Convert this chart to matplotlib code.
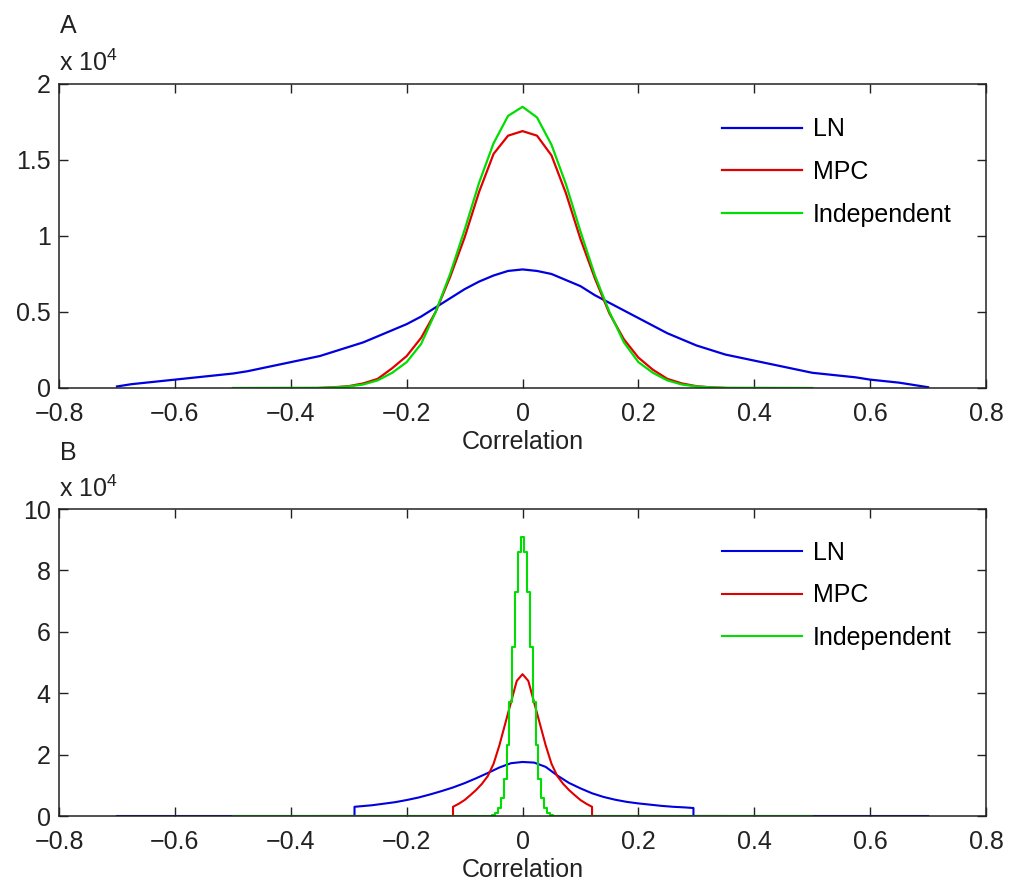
import matplotlib
matplotlib.use("Agg")
import matplotlib.pyplot as plt
import numpy as np

plt.rcParams['font.family'] = ['Liberation Sans', 'DejaVu Sans']
plt.rcParams['mathtext.default'] = 'regular'

series_names = ['LN', 'MPC', 'Independent']
colors = ['#0000e0', '#e00000', '#00dd00']
xticks = [-0.8, -0.6, -0.4, -0.2, 0, 0.2, 0.4, 0.6, 0.8]
xtick_labels = ['\u22120.8', '\u22120.6', '\u22120.4', '\u22120.2', '0', '0.2', '0.4', '0.6', '0.8']

# ---- panel A (counts in units of 1e4) ----
a_ln_x = [-0.7, -0.675, -0.65, -0.625, -0.6, -0.575, -0.55, -0.525, -0.5, -0.475, -0.45, -0.425,
          -0.4, -0.375, -0.35, -0.325, -0.3, -0.275, -0.25, -0.225, -0.2, -0.175, -0.15, -0.125,
          -0.1, -0.075, -0.05, -0.025, 0, 0.025, 0.05, 0.075, 0.1, 0.125, 0.15, 0.175, 0.2,
          0.225, 0.25, 0.275, 0.3, 0.325, 0.35, 0.375, 0.4, 0.425, 0.45, 0.475, 0.5, 0.525,
          0.55, 0.575, 0.6, 0.625, 0.65, 0.675, 0.7]
a_ln_y = [0.01, 0.025, 0.035, 0.045, 0.055, 0.065, 0.075, 0.085, 0.095, 0.11, 0.13, 0.15,
          0.17, 0.19, 0.21, 0.24, 0.27, 0.30, 0.34, 0.38, 0.42, 0.47, 0.53, 0.59,
          0.65, 0.70, 0.74, 0.77, 0.78, 0.77, 0.75, 0.71, 0.67, 0.61, 0.56, 0.51, 0.46,
          0.41, 0.36, 0.32, 0.28, 0.25, 0.22, 0.20, 0.18, 0.16, 0.14, 0.12, 0.10, 0.09,
          0.08, 0.07, 0.055, 0.045, 0.035, 0.02, 0.005]

a_mpc_x = [-0.35, -0.325, -0.3, -0.275, -0.25, -0.225, -0.2, -0.175, -0.15, -0.125, -0.1,
           -0.075, -0.05, -0.025, 0, 0.025, 0.05, 0.075, 0.1, 0.125, 0.15, 0.175, 0.2,
           0.225, 0.25, 0.275, 0.3, 0.325, 0.35]
a_mpc_y = [0.0, 0.005, 0.012, 0.03, 0.06, 0.13, 0.21, 0.33, 0.50, 0.73, 0.99,
           1.29, 1.54, 1.66, 1.69, 1.66, 1.53, 1.28, 0.98, 0.72, 0.49, 0.32, 0.20,
           0.12, 0.06, 0.03, 0.012, 0.004, 0.0]

a_ind_x = [-0.5, -0.35, -0.325, -0.3, -0.275, -0.25, -0.225, -0.2, -0.175, -0.15, -0.125, -0.1,
           -0.075, -0.05, -0.025, 0, 0.025, 0.05, 0.075, 0.1, 0.125, 0.15, 0.175, 0.2,
           0.225, 0.25, 0.275, 0.3, 0.325, 0.35, 0.5]
a_ind_y = [0.0, 0.0015, 0.004, 0.01, 0.023, 0.05, 0.10, 0.17, 0.29, 0.50, 0.75, 1.04,
           1.35, 1.61, 1.79, 1.85, 1.78, 1.60, 1.34, 1.03, 0.74, 0.50, 0.30, 0.17,
           0.10, 0.05, 0.023, 0.01, 0.004, 0.0015, 0.0]

# ---- panel B (counts in units of 1e4) ----
b_ln_x = [-0.7, -0.29, -0.29, -0.26, -0.24, -0.22, -0.2, -0.18, -0.16, -0.14, -0.12, -0.1, -0.08,
          -0.06, -0.04, -0.02, 0, 0.02, 0.04, 0.06, 0.08, 0.1, 0.12, 0.14, 0.16, 0.18,
          0.2, 0.22, 0.24, 0.26, 0.28, 0.295, 0.295, 0.7]
b_ln_y = [0.0, 0.0, 0.30, 0.35, 0.40, 0.45, 0.52, 0.60, 0.70, 0.81, 0.93, 1.07, 1.23,
          1.40, 1.58, 1.72, 1.76, 1.74, 1.60, 1.32, 1.08, 0.90, 0.74, 0.62, 0.53, 0.46,
          0.41, 0.37, 0.33, 0.30, 0.28, 0.26, 0.0, 0.0]

b_mpc_x = [-0.35, -0.12, -0.12, -0.11, -0.1, -0.09, -0.08, -0.07, -0.06, -0.05, -0.04, -0.03,
           -0.02, -0.01, 0, 0.01, 0.02, 0.03, 0.04, 0.05, 0.06, 0.07, 0.08, 0.09, 0.1,
           0.11, 0.12, 0.12, 0.35]
b_mpc_y = [0.0, 0.0, 0.30, 0.40, 0.52, 0.68, 0.85, 1.05, 1.30, 1.70, 2.30, 3.00,
           3.70, 4.40, 4.62, 4.40, 3.70, 3.00, 2.30, 1.70, 1.30, 1.05, 0.85, 0.68, 0.52,
           0.40, 0.30, 0.0, 0.0]

b_ind_x = [-0.5, -0.055, -0.05, -0.045, -0.04, -0.035, -0.03, -0.025, -0.02, -0.015, -0.01,
           -0.005, 0, 0.005, 0.01, 0.015, 0.02, 0.025, 0.03, 0.035, 0.04, 0.045, 0.05,
           0.055, 0.5]
b_ind_y = [0.0, 0.0, 0.04, 0.10, 0.26, 0.60, 1.20, 2.30, 3.70, 5.50, 7.30,
           8.60, 9.10, 8.60, 7.30, 5.50, 3.70, 2.30, 1.20, 0.60, 0.26, 0.10, 0.04,
           0.0, 0.0]

fig = plt.figure(figsize=(10.11, 8.86), dpi=100)
ax_a = fig.add_axes([0.0584, 0.5621, 0.9169, 0.3431])
ax_b = fig.add_axes([0.0584, 0.0790, 0.9169, 0.3465])


def style_axes(ax, ylim, yticks, legend_y):
    ax.set_xlim(-0.8, 0.8)
    ax.set_ylim(*ylim)
    ax.set_xticks(xticks)
    ax.set_xticklabels(xtick_labels)
    ax.set_yticks(yticks)
    ax.set_yticklabels([('%g' % v) for v in yticks])
    ax.tick_params(direction='in', length=6.5, width=1.0, top=True, right=True,
                   labelsize=18, colors='#222222')
    ax.tick_params(axis='x', pad=10)
    ax.tick_params(axis='y', pad=6)
    for sp in ax.spines.values():
        sp.set_linewidth(1.1)
        sp.set_color('#222222')
    ax.set_xlabel('Correlation', fontsize=18, labelpad=3, color='#222222')
    ax.annotate('x 10$^4$', xy=(0, 1), xycoords='axes fraction', xytext=(0, 9),
                textcoords='offset points', ha='left', va='baseline', fontsize=18,
                color='#222222')
    ax.legend(loc='upper left', bbox_to_anchor=(0.715, legend_y), frameon=False,
              fontsize=18, handlelength=3.2, handletextpad=0.45, labelspacing=0.75,
              borderpad=0, borderaxespad=0)


# panel A: smooth-looking histogram outlines
for (xs, ys), c, name in zip([(a_ln_x, a_ln_y), (a_mpc_x, a_mpc_y), (a_ind_x, a_ind_y)],
                             colors, series_names):
    ax_a.plot(xs, ys, color=c, lw=1.6, label=name)

# panel B: LN / MPC outlines, Independent as stairs
for (xs, ys), c, name in zip([(b_ln_x, b_ln_y), (b_mpc_x, b_mpc_y), (b_ind_x, b_ind_y)],
                             colors, series_names):
    style = 'steps-mid' if name == 'Independent' else 'default'
    ax_b.plot(xs, ys, color=c, lw=1.5, drawstyle=style, label=name)

style_axes(ax_a, (0, 2), [0, 0.5, 1, 1.5, 2], 0.89)
style_axes(ax_b, (0, 10), [0, 2, 4, 6, 8, 10], 0.897)

fig.text(60 / 1011, 1 - 33 / 886, 'A', fontsize=18, ha='left', va='baseline', color='#222222')
fig.text(60 / 1011, 1 - 460 / 886, 'B', fontsize=18, ha='left', va='baseline', color='#222222')

fig.savefig('out.png', dpi=100)
